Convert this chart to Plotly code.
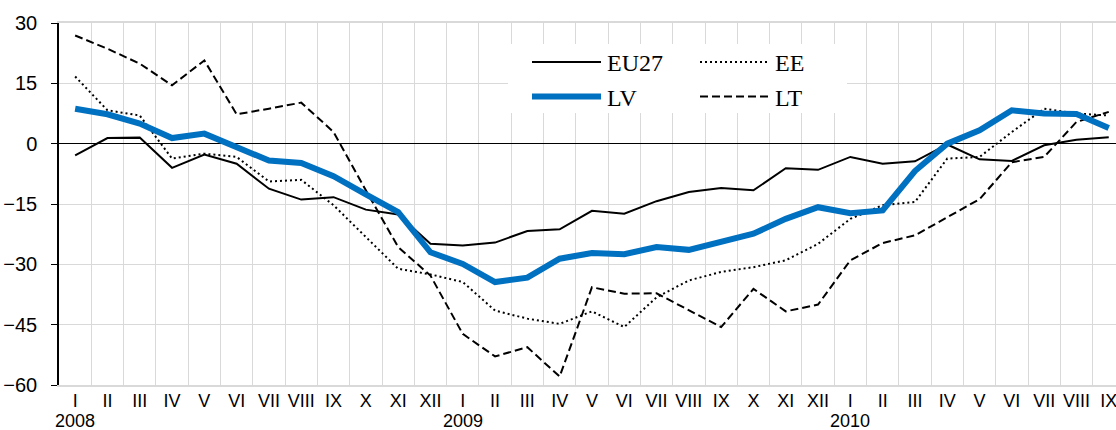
"""Confidence indicator: EU27 vs Baltic states, monthly, 2008-2010."""

import plotly.graph_objects as go

# ---- data -----------------------------------------------------------------
MONTHS = ["I", "II", "III", "IV", "V", "VI", "VII", "VIII", "IX", "X", "XI", "XII"]
month_labels = MONTHS + MONTHS + MONTHS[:9]
years = ["2008", "2009", "2010"]

eu27 = [-2.9, 1.4, 1.5, -6.0, -2.7, -5.0, -11.2, -13.9, -13.3, -16.4, -17.6, -24.9,
        -25.3, -24.6, -21.7, -21.3, -16.7, -17.4, -14.3, -12.0, -11.0, -11.6, -6.1, -6.5,
        -3.3, -5.0, -4.4, -0.2, -3.9, -4.3, -0.4, 1.0, 1.6]
ee = [16.7, 8.3, 7.0, -3.7, -2.5, -3.3, -9.4, -9.0, -15.3, -23.2, -31.1, -32.5,
      -34.4, -41.5, -43.5, -44.8, -41.7, -45.6, -38.2, -34.0, -31.9, -30.7, -29.0, -24.9,
      -18.7, -15.3, -14.5, -3.7, -3.3, 2.9, 8.7, 7.5, 7.0]
lv = [8.7, 7.3, 5.0, 1.4, 2.5, -1.0, -4.2, -4.8, -8.1, -12.6, -17.0, -27.0,
      -29.9, -34.4, -33.3, -28.6, -27.2, -27.5, -25.7, -26.4, -24.5, -22.4, -18.7, -15.8,
      -17.3, -16.6, -6.8, 0.0, 3.3, 8.3, 7.5, 7.4, 3.9]
lt = [26.9, 23.6, 19.9, 14.5, 20.7, 7.3, 8.7, 10.2, 2.9, -11.6, -25.7, -32.8,
      -47.3, -52.9, -50.6, -57.9, -35.7, -37.3, -37.2, -41.5, -45.6, -36.1, -41.7, -40.0,
      -29.0, -24.7, -22.8, -18.3, -13.8, -4.6, -3.3, 5.4, 7.9]

y_ticks = [-60, -45, -30, -15, 0, 15, 30]

# ---- layout constants -----------------------------------------------------
W, H = 1116, 430
ML, MR, MT, MB = 59, 0, 23, 45
PW, PH = W - ML - MR, H - MT - MB
GRID = "#d9d9d9"
BLUE = "#0070c0"
SANS = "Liberation Sans, Arial, sans-serif"
SERIF = "Liberation Serif, Times New Roman, serif"


def px_x(p):
    return (p - ML) / PW


def px_y(p):
    return (H - MB - p) / PH


x = list(range(len(month_labels)))
series = [
    ("EU27", eu27, dict(color="black", width=2)),
    ("EE", ee, dict(color="black", width=2, dash="2px,3px")),
    ("LV", lv, dict(color=BLUE, width=6)),
    ("LT", lt, dict(color="black", width=2, dash="8px,4px")),
]

fig = go.Figure()
# draw order: thin lines first, LV on top
for name, vals, line in [series[1], series[3], series[0], series[2]]:
    fig.add_trace(go.Scatter(x=x, y=vals, mode="lines", name=name, line=line,
                             showlegend=False, hoverinfo="skip"))

# manual legend (2 x 2 grid in a white box)
shapes = [dict(type="rect", xref="paper", yref="paper",
               x0=px_x(508), x1=px_x(847), y0=px_y(113), y1=px_y(44),
               fillcolor="white", line=dict(width=0), layer="above")]
annotations = []
legend_pos = {"EU27": (532, 62), "LV": (532, 96.5), "EE": (700, 62), "LT": (700, 96.5)}
for name, vals, line in series:
    lx, ly = legend_pos[name]
    sample = dict(color=line["color"], width=line["width"])
    if "dash" in line:
        sample["dash"] = line["dash"]
    shapes.append(dict(type="line", xref="paper", yref="paper",
                       x0=px_x(lx), x1=px_x(lx + 69), y0=px_y(ly), y1=px_y(ly),
                       line=sample, layer="above"))
    annotations.append(dict(text=name, xref="paper", yref="paper",
                            x=px_x(lx + 73), y=px_y(ly + 1), xanchor="left",
                            yanchor="middle", showarrow=False,
                            font=dict(family=SERIF, size=24, color="black")))

# year labels under each January
for k, yr in enumerate(years):
    annotations.append(dict(text=yr, xref="x", yref="paper", x=x[12 * k],
                            y=px_y(421), xanchor="center", yanchor="middle",
                            showarrow=False,
                            font=dict(family=SANS, size=18, color="black")))

fig.update_layout(
    width=W, height=H,
    margin=dict(l=ML, r=MR, t=MT, b=MB, pad=0),
    plot_bgcolor="white", paper_bgcolor="white",
    shapes=shapes, annotations=annotations,
    showlegend=False,
)
fig.update_xaxes(
    range=[-0.5, -0.5 + PW / 32.3],
    tickvals=x, ticktext=month_labels,
    tickfont=dict(family=SANS, size=18, color="black"),
    ticks="", ticklabelstandoff=-2, ticklabeloverflow="allow",
    showgrid=False, zeroline=False,
    showline=True, linecolor=GRID, linewidth=2, mirror=True,
    minor=dict(tickvals=[i + 0.5 for i in x[:-1]], showgrid=True,
               gridcolor=GRID, gridwidth=1, ticks=""),
)
fig.update_yaxes(
    range=[-60, 30], tickvals=y_ticks,
    tickfont=dict(family=SANS, size=20, color="black"),
    ticks="outside", ticklen=6, tickcolor="black", ticklabelstandoff=10,
    showgrid=True, gridcolor=GRID, gridwidth=1,
    zeroline=True, zerolinecolor="black", zerolinewidth=1,
    showline=True, linecolor="black", linewidth=1.5,
)

# the page's default body margin would push the figure out of the window
fig.write_html("out.html", config={"displayModeBar": False},
               post_script="document.body.style.margin='0';")
